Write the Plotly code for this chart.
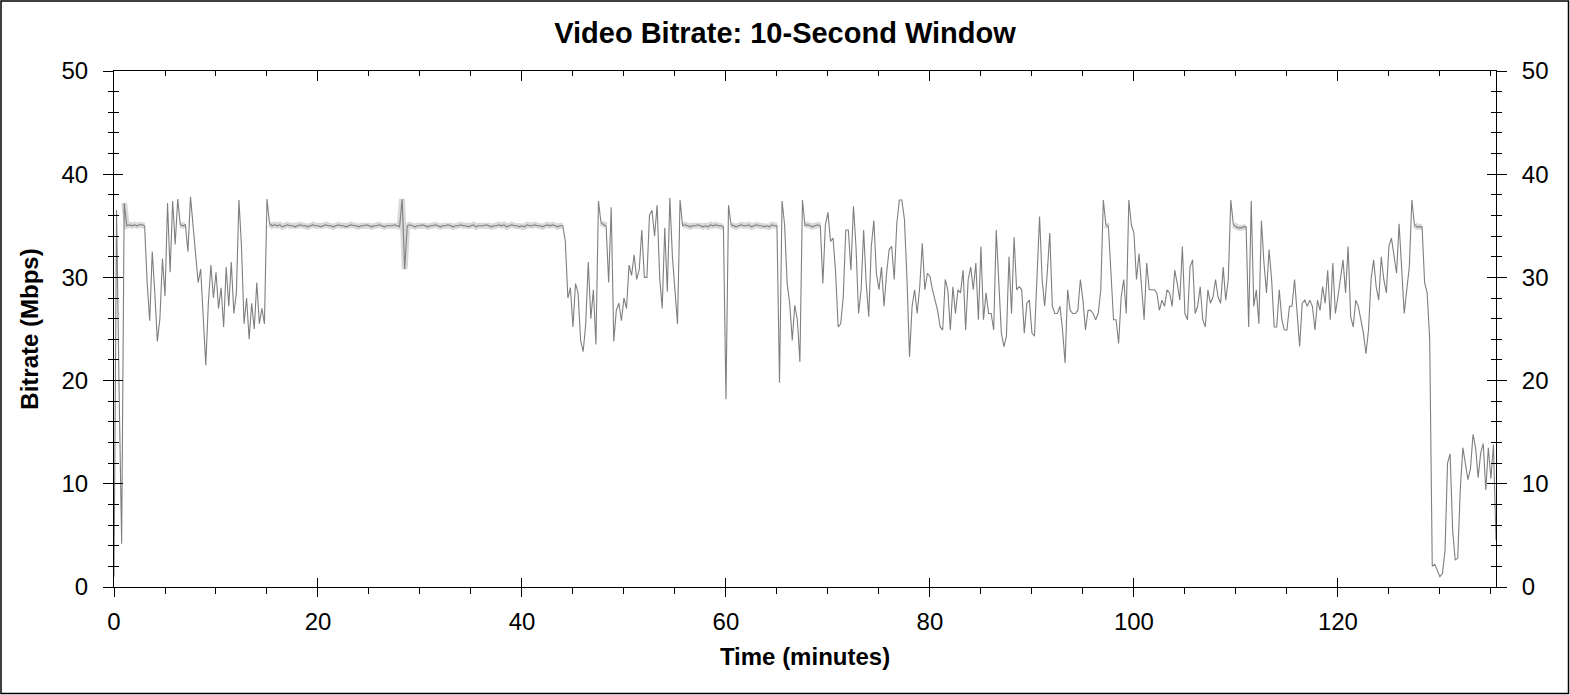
import plotly.graph_objects as go

# one reading every 15 s (0.25 min), first one at t = 0
SAMPLE_STEP = 0.25

bitrate = [
    1.0, 36.5, 19.0, 4.2,      # 0
    37.2, 35.0, 35.1, 35.0,
    35.1, 35.0, 35.1, 35.1,
    35.0, 29.5, 25.8, 32.5,
    28.5, 23.8, 26.0, 31.8,
    28.2, 37.2, 30.5, 37.4,    # 5
    33.2, 37.6, 35.1, 35.0,
    35.1, 32.5, 37.8, 35.0,
    31.5, 29.5, 30.8, 25.5,
    21.5, 27.5, 31.2, 28.0,
    30.5, 27.0, 29.0, 25.2,    # 10
    31.0, 27.2, 31.5, 26.5,
    28.5, 37.5, 33.0, 25.5,
    28.0, 24.0, 27.5, 25.0,
    29.5, 25.5, 27.0, 25.5,
    37.6, 35.2, 35.0, 35.1,    # 15
    35.0, 35.1, 34.9, 35.0,
    35.1, 35.0, 35.0, 34.9,
    35.0, 35.1, 35.0, 35.0,
    34.9, 35.0, 35.1, 35.0,
    35.0, 34.9, 35.0, 35.1,    # 20
    35.0, 35.0, 34.9, 35.0,
    35.1, 35.0, 35.0, 34.9,
    35.0, 35.1, 35.0, 35.0,
    34.9, 35.0, 35.0, 35.1,
    35.0, 34.9, 35.0, 35.0,    # 25
    35.1, 35.0, 34.9, 35.0,
    35.0, 35.0, 35.1, 35.0,
    34.9, 37.6, 30.8, 35.0,
    35.1, 35.0, 34.9, 35.0,
    35.0, 35.1, 35.0, 34.9,    # 30
    35.0, 35.0, 35.1, 35.0,
    34.9, 35.0, 35.0, 35.1,
    35.0, 34.9, 35.0, 35.0,
    35.1, 35.0, 35.0, 34.9,
    35.0, 35.1, 34.9, 35.0,    # 35
    35.0, 35.0, 35.1, 35.0,
    34.9, 35.0, 35.0, 35.1,
    35.0, 35.1, 34.9, 35.0,
    35.1, 35.0, 35.0, 34.9,
    35.0, 34.9, 35.1, 35.0,    # 40
    35.0, 35.1, 35.0, 35.0,
    34.9, 35.0, 35.1, 35.0,
    35.1, 35.0, 34.9, 35.0,
    35.0, 33.5, 28.0, 29.0,
    25.2, 29.4, 28.5, 23.9,    # 45
    22.8, 25.5, 31.5, 26.0,
    28.8, 23.5, 37.4, 35.3,
    35.1, 35.0, 29.5, 36.8,
    23.8, 26.8, 27.5, 25.8,
    28.0, 27.0, 31.2, 30.2,    # 50
    32.2, 29.8, 30.8, 34.6,
    30.0, 30.0, 36.0, 36.5,
    34.0, 37.0, 30.0, 27.0,
    34.8, 28.6, 37.7, 32.0,
    28.5, 25.5, 37.5, 35.0,    # 55
    35.1, 35.0, 34.9, 35.0,
    35.0, 35.1, 35.0, 34.9,
    35.0, 34.9, 35.1, 35.0,
    35.1, 35.0, 35.0, 34.9,
    18.2, 37.0, 35.1, 35.0,    # 60
    34.9, 35.0, 35.1, 35.0,
    35.0, 35.1, 34.9, 35.0,
    35.1, 35.0, 35.0, 34.9,
    35.0, 34.9, 35.1, 35.0,
    35.0, 19.8, 37.4, 35.1,    # 65
    29.4, 27.5, 23.9, 27.3,
    25.9, 21.8, 37.5, 35.0,
    35.1, 35.0, 34.9, 35.0,
    35.1, 35.0, 29.4, 35.1,
    36.3, 33.5, 33.8, 30.5,    # 70
    25.2, 25.5, 28.1, 34.6,
    34.6, 30.7, 36.9, 33.0,
    26.5, 28.8, 34.6, 29.4,
    26.2, 33.0, 35.5, 30.4,
    28.8, 31.0, 27.2, 30.4,    # 75
    32.7, 33.0, 29.8, 35.2,
    37.5, 37.5, 35.6, 29.8,
    22.3, 27.2, 28.8, 26.5,
    29.1, 33.3, 28.8, 30.4,
    30.1, 28.8, 27.8, 26.8,    # 80
    25.2, 24.9, 29.8, 28.8,
    24.9, 29.1, 26.5, 28.8,
    28.5, 30.7, 24.9, 29.8,
    31.0, 28.8, 31.4, 25.9,
    33.0, 25.9, 28.5, 26.5,    # 85
    26.5, 24.9, 34.6, 29.8,
    24.6, 23.3, 24.3, 32.0,
    26.5, 33.9, 28.8, 29.1,
    28.8, 24.6, 27.5, 27.8,
    24.6, 24.3, 30.1, 35.9,    # 90
    29.8, 27.2, 30.4, 34.3,
    27.2, 26.5, 26.5, 27.2,
    24.9, 21.7, 28.8, 26.8,
    26.5, 26.5, 26.8, 29.8,
    27.8, 24.9, 26.8, 26.8,    # 95
    26.5, 25.9, 26.5, 28.8,
    37.5, 35.1, 34.9, 30.4,
    25.9, 25.9, 23.6, 28.1,
    29.8, 26.5, 37.5, 35.1,
    34.3, 29.8, 32.3, 29.1,    # 100
    25.9, 31.4, 28.8, 28.8,
    28.8, 28.5, 26.8, 27.8,
    27.2, 28.8, 28.5, 27.2,
    30.7, 29.4, 27.8, 33.0,
    26.5, 25.9, 31.0, 31.7,    # 105
    26.5, 27.2, 29.1, 25.9,
    25.2, 28.8, 27.5, 28.1,
    29.8, 28.1, 27.5, 31.0,
    27.8, 29.8, 37.5, 35.1,
    34.9, 34.8, 34.8, 34.9,    # 110
    34.9, 25.2, 37.4, 27.2,
    28.8, 25.5, 35.5, 31.4,
    28.5, 32.7, 29.8, 25.2,
    25.2, 28.8, 25.9, 24.9,
    24.9, 27.2, 27.2, 29.8,    # 115
    26.2, 23.3, 27.5, 27.8,
    27.2, 27.8, 27.2, 24.9,
    27.8, 26.8, 29.1, 27.5,
    30.7, 25.9, 31.4, 26.5,
    28.1, 30.1, 31.7, 28.5,    # 120
    33.0, 26.2, 25.2, 27.8,
    27.2, 25.9, 24.6, 22.6,
    24.9, 29.8, 31.7, 29.1,
    27.8, 32.0, 29.8, 28.5,
    33.0, 33.8, 32.0, 30.4,    # 125
    35.2, 31.4, 26.5, 28.8,
    31.0, 37.5, 35.1, 34.9,
    34.9, 34.9, 29.5, 28.5,
    24.0, 2.0, 2.2, 1.5,
    1.0, 1.3, 3.5, 12.0,       # 130
    12.9, 5.5, 2.6, 2.8,
    9.5, 13.5, 12.0, 10.4,
    11.5, 14.8, 13.5, 10.6,
    13.0, 13.9, 9.4, 13.5,
    10.5, 13.8, 4.5,           # 135
]

# stretches where the stream sits at the cap (shown with the light band)
band_spans = [(1.0, 3.0), (6.5, 7.0), (15.25, 44.0), (47.75, 48.25),
              (55.75, 59.75), (60.5, 65.0), (67.75, 69.25), (97.25, 97.5),
              (109.75, 111.0), (127.5, 128.25)]

title_text = "Video Bitrate: 10-Second Window"
x_title = "Time (minutes)"
y_title = "Bitrate (Mbps)"
x_ticks = [0, 20, 40, 60, 80, 100, 120]
y_ticks = [0, 10, 20, 30, 40, 50]
x_max = 135.5
y_max = 50

W, H = 1570, 695
M_L, M_R, M_T, M_B = 114, 74, 71, 108
FONT = "Liberation Sans, Arial, sans-serif"

time = [i * SAMPLE_STEP for i in range(len(bitrate))]
band = [v if any(a <= t <= b for a, b in band_spans) else None
        for t, v in zip(time, bitrate)]

fig = go.Figure()
fig.add_trace(go.Scatter(x=time, y=band, mode="lines",
                         line=dict(color="#d9d9d9", width=6),
                         connectgaps=False, hoverinfo="skip", showlegend=False))
fig.add_trace(go.Scatter(x=time, y=bitrate, mode="lines",
                         line=dict(color="#7f7f7f", width=1.1),
                         name="Bitrate", showlegend=False))

# empty traces so plotly builds the extra (tick-only) axes
for xa, ya in [("x2", "y"), ("x3", "y"), ("x", "y2"), ("x", "y3")]:
    fig.add_trace(go.Scatter(x=[], y=[], xaxis=xa, yaxis=ya, mode="lines",
                             hoverinfo="skip", showlegend=False))

tick_font = dict(family=FONT, size=24, color="black")
title_font = dict(family=FONT, size=24, color="black", weight="bold")

common_x = dict(range=[0, x_max], tickvals=x_ticks, showgrid=False, zeroline=False,
                tickcolor="black", tickwidth=1, linecolor="black", linewidth=1)
common_y = dict(range=[0, y_max], tickvals=y_ticks, showgrid=False, zeroline=False,
                tickcolor="black", tickwidth=1, linecolor="black", linewidth=1)

fig.update_layout(
    width=W, height=H,
    margin=dict(l=M_L, r=M_R, t=M_T, b=M_B, autoexpand=False),
    paper_bgcolor="white", plot_bgcolor="white",
    title=dict(text=title_text, x=0.5, xanchor="center", y=1 - 33 / H, yanchor="middle",
               font=dict(family=FONT, size=29, color="black", weight="bold")),
    # bottom axis: labels + ticks pointing out
    xaxis=dict(**common_x, side="bottom", ticks="outside", ticklen=9, showline=True,
               tickfont=tick_font, ticklabelstandoff=4,
               minor=dict(ticks="outside", ticklen=6, dtick=5, tick0=0, tickcolor="black"),
               title=dict(text=x_title, font=title_font, standoff=14)),
    # top axis: ticks pointing in
    xaxis2=dict(**common_x, overlaying="x", side="top", anchor="y", ticks="inside",
                ticklen=10, showline=True, showticklabels=False,
                minor=dict(ticks="inside", ticklen=5, dtick=5, tick0=0, tickcolor="black")),
    # inner half of the crossing majors on the bottom
    xaxis3=dict(**common_x, overlaying="x", side="bottom", anchor="y", ticks="inside",
                ticklen=9, showline=False, showticklabels=False),
    yaxis=dict(**common_y, side="left", ticks="outside", ticklen=10, showline=True,
               tickfont=tick_font, ticklabelstandoff=10,
               minor=dict(ticks="outside", ticklen=5, dtick=2, tick0=0, tickcolor="black")),
    yaxis2=dict(**common_y, overlaying="y", side="right", anchor="x", ticks="outside",
                ticklen=10, showline=True, tickfont=tick_font, ticklabelstandoff=10,
                minor=dict(ticks="outside", ticklen=5, dtick=2, tick0=0, tickcolor="black")),
    yaxis3=dict(**common_y, overlaying="y", side="left", anchor="x", ticks="inside",
                ticklen=9, mirror="allticks", showline=False, showticklabels=False,
                minor=dict(ticks="inside", ticklen=5, dtick=2, tick0=0, tickcolor="black")),
)
fig.update_yaxes(title=dict(text=y_title, font=title_font, standoff=16), selector=dict(side="left", ticks="outside"))

# frame round the whole picture
pw = W - M_L - M_R
ph = H - M_T - M_B
fig.add_shape(type="rect", xref="paper", yref="paper",
              x0=(1 - M_L) / pw, x1=(W - 1.5 - M_L) / pw,
              y0=(H - M_B - (H - 1.5)) / ph, y1=(H - M_B - 1) / ph,
              line=dict(color="black", width=1.5), fillcolor="rgba(0,0,0,0)")

fig.write_html("out.html", config={"displayModeBar": False},
               post_script="document.body.style.margin='0';")
